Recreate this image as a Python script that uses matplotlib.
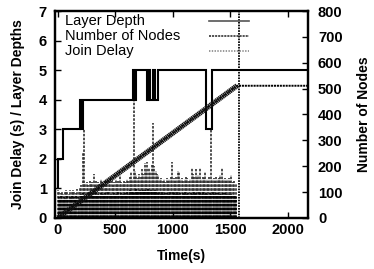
import numpy as np
import matplotlib
matplotlib.use("Agg")
import matplotlib.pyplot as plt

plt.rcParams['font.family'] = ['Liberation Sans', 'DejaVu Sans']
plt.rcParams['lines.scale_dashes'] = False

# layer depth (step path)
depth_t = [0, 0, 45, 45, 195, 195, 205, 205, 215, 215, 228, 228,
           655, 655, 665, 665, 680, 680, 690, 690, 780, 780, 795, 795,
           805, 805, 830, 830, 850, 850, 873, 873, 1293, 1293, 1345, 1345, 2180]
depth_v = [1, 2, 2, 3, 3, 4, 4, 3, 3, 4, 4, 4,
           4, 5, 5, 4, 4, 5, 5, 5, 5, 4, 4, 5,
           5, 4, 4, 5, 5, 4, 4, 5, 5, 3, 3, 5, 5]

# number of nodes
nodes_t = [0, 1560, 2180]
nodes_n = [0, 511, 511]

# join delay impulses, one every 12 s (upper envelope)
join_step = 12
join_delay = [
    0.95, 0.90, 0.85, 0.92, 0.80, 0.88, 0.95, 0.90, 0.82, 0.93, 0.87, 0.96, 0.90, 0.85, 0.98, 0.92,
    1.05, 1.10, 2.20, 3.00, 1.15, 1.20, 1.10, 1.25, 1.15, 1.20, 1.50, 1.10, 1.25, 1.20, 1.15, 1.30,
    1.20, 1.10, 1.25, 1.20, 1.15, 1.30, 1.20, 1.25, 1.10, 1.20, 1.30, 1.15, 1.25, 1.45, 1.20, 1.15,
    1.25, 1.20, 1.30, 1.25, 1.40, 1.55, 1.30, 4.00, 1.60, 1.45, 1.35, 1.50, 1.40, 1.65, 1.50, 1.85,
    1.60, 1.90, 1.70, 1.55, 1.80, 3.20, 1.75, 1.60, 1.50, 1.45, 1.30, 1.35, 1.25, 1.30, 1.20, 1.35,
    1.25, 1.30, 1.40, 1.90, 1.35, 1.25, 1.40, 1.60, 1.55, 1.30, 1.35, 1.25, 1.30, 1.40, 1.35, 1.25,
    1.30, 1.70, 1.50, 1.40, 1.65, 1.35, 1.45, 1.70, 1.30, 1.40, 1.35, 1.55, 1.30, 1.25, 1.40, 3.00,
    1.30, 1.35, 1.25, 1.40, 1.30, 1.35, 1.45, 1.70, 1.30, 1.35, 1.25, 1.30, 1.35, 1.25, 1.45, 1.20,
    1.25, 1.15,
]
# typical join delays, between the impulses above (offset 6 s)
join_base = [
    0.70, 0.65, 0.75, 0.60, 0.72, 0.68, 0.74, 0.62, 0.70, 0.66, 0.73, 0.69, 0.64, 0.75, 0.71, 0.67,
    0.80, 0.75, 0.85, 0.78, 0.82, 0.74, 0.88, 0.80, 0.76, 0.84, 0.79, 0.86, 0.73, 0.81, 0.77, 0.85,
    0.80, 0.74, 0.83, 0.78, 0.87, 0.75, 0.82, 0.79, 0.84, 0.76, 0.81, 0.86, 0.78, 0.83, 0.75, 0.80,
    0.85, 0.78, 0.90, 0.82, 0.95, 0.88, 0.92, 0.85, 0.98, 0.90, 0.86, 0.94, 0.89, 0.96, 0.87, 0.93,
    0.91, 0.97, 0.88, 0.95, 0.90, 0.86, 0.93, 0.89, 0.84, 0.90, 0.82, 0.87, 0.80, 0.85, 0.78, 0.84,
    0.81, 0.86, 0.79, 0.88, 0.83, 0.80, 0.87, 0.82, 0.85, 0.79, 0.84, 0.81, 0.86, 0.80, 0.83, 0.78,
    0.85, 0.82, 0.88, 0.80, 0.84, 0.79, 0.86, 0.83, 0.81, 0.87, 0.80, 0.85, 0.82, 0.78, 0.84, 0.81,
    0.86, 0.80, 0.83, 0.79, 0.85, 0.82, 0.80, 0.84, 0.78, 0.83, 0.81, 0.79, 0.82, 0.80, 0.78, 0.76,
    0.74, 0.70,
]
late_t = [1581]
late_delay = [8.0]

join_t = np.arange(len(join_delay)) * join_step
base_t = join_t + join_step / 2

fig = plt.figure(figsize=(3.74, 2.69), dpi=100)
ax = fig.add_axes([0.147, 0.19, 0.677, 0.769])
ax2 = ax.twinx()

dot = (0, (1.8, 1.0))
ax.vlines(join_t, 0, join_delay, colors='#303030', linewidth=1.2, linestyles=[dot])
ax.vlines(base_t, 0, join_base, colors='#000000', linewidth=1.2, linestyles=[dot])
ax.vlines(late_t, 0, late_delay, colors='black', linewidth=1.3,
          linestyles=[(0, (1.2, 0.8))])

ax.plot(depth_t, depth_v, color='black', lw=1.5, solid_joinstyle='miter')

ax2.plot(nodes_t, nodes_n, color='black', lw=1.4, ls=(0, (1.5, 0.6)))
ax2.plot(nodes_t[:2], nodes_n[:2], color='#111111', lw=3.8, ls=(0, (1.0, 0.35)))

ax.set_xlim(-25, 2180)
ax.set_ylim(0, 7)
ax2.set_ylim(0, 800)
ax.set_xticks([0, 500, 1000, 1500, 2000])
ax.set_yticks(range(0, 8))
ax2.set_yticks(range(0, 801, 100))

for a in (ax, ax2):
    for s in a.spines.values():
        s.set_linewidth(1.6)
ax.tick_params(axis='both', direction='in', length=4, width=1, labelsize=10.5,
               top=True, right=False)
ax.tick_params(axis='x', pad=4)
ax.tick_params(axis='y', pad=6)
ax2.tick_params(axis='y', direction='in', length=4, width=1, labelsize=10.5, pad=7)
for lab in ax.get_xticklabels() + ax.get_yticklabels() + ax2.get_yticklabels():
    lab.set_fontweight('bold')

ax.set_xlabel('Time(s)', fontsize=10, fontweight='bold', labelpad=8)
ax.set_ylabel('Join Delay (s) / Layer Depths', fontsize=10, fontweight='bold', labelpad=10)
ax2.set_ylabel('Number of Nodes', fontsize=10, fontweight='bold', labelpad=10)

# key drawn gnuplot-style: text on the left, sample on the right
key_labels = ['Layer Depth', 'Number of Nodes', 'Join Delay']
key_y = [0.952, 0.877, 0.805]
key_colors = ['#555555', '#333333', '#888888']
key_styles = ['-', (0, (1.5, 0.7)), (0, (1.0, 1.0))]
for lab, y, c, s in zip(key_labels, key_y, key_colors, key_styles):
    ax.text(0.04, y, lab, transform=ax.transAxes, fontsize=10.5,
            ha='left', va='center')
    ax.plot([0.609, 0.767], [y, y], transform=ax.transAxes, color=c,
            lw=1.2, ls=s, clip_on=False)

fig.savefig('out.png', dpi=100)
